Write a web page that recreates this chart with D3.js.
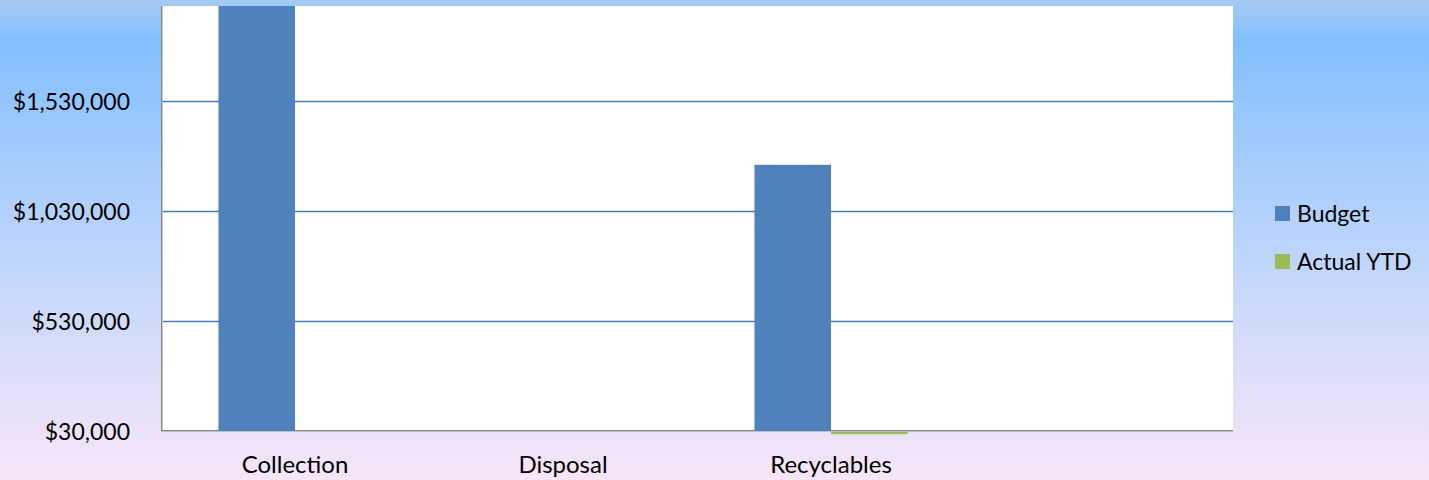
<!DOCTYPE html>
<html>
<head>
<meta charset="utf-8">
<script src="https://cdn.jsdelivr.net/npm/d3@7"></script>
<style>
  html, body { margin: 0; padding: 0; }
  svg { display: block; font-family: Lato, "Open Sans", sans-serif; }
</style>
</head>
<body>
<svg id="chart" width="1429" height="480"></svg>
<script>
// Solid waste budget vs. actual year-to-date
const categories = ["Collection", "Disposal", "Recyclables", ""];
const seriesNames = ["Budget", "Actual YTD"];
const budget = [2100000, null, 1240000, null];
const actualYTD = [null, null, 18000, null];
const tickValues = [30000, 530000, 1030000, 1530000];
const axisMin = 30000;
const axisMax = 1962000;

const colors = { "Budget": "#4f81bd", "Actual YTD": "#9bbb59" };

const W = 1429, H = 480;
const plot = { left: 161, right: 1233, top: 6, bottom: 431 };
const fontSize = 23;

const svg = d3.select("#chart");
const defs = svg.append("defs");

// Page background: sky blue fading into lavender pink
const bg = defs.append("linearGradient").attr("id", "bg")
  .attr("x1", 0).attr("y1", 0).attr("x2", 0).attr("y2", 1);
[[0, "#a6caf2"], [0.085, "#82bfff"], [0.35, "#a6cdfd"], [0.6, "#c6d8fb"],
 [0.8, "#e0dff9"], [1, "#f7e5f8"]].forEach(([o, c]) =>
  bg.append("stop").attr("offset", o).attr("stop-color", c));

defs.append("clipPath").attr("id", "plotClip").append("rect")
  .attr("x", plot.left).attr("y", plot.top)
  .attr("width", plot.right - plot.left).attr("height", plot.bottom - plot.top + 4);

svg.append("rect").attr("width", W).attr("height", H).attr("fill", "url(#bg)");

// Plot area
svg.append("rect")
  .attr("x", plot.left).attr("y", plot.top)
  .attr("width", plot.right - plot.left).attr("height", plot.bottom - plot.top)
  .attr("fill", "#ffffff");

const x0 = d3.scaleBand().domain(categories.map((c, i) => i))
  .range([plot.left, plot.right]).paddingInner(0).paddingOuter(0);
// Two bars per group, with a 150% gap between groups
const x1 = d3.scaleBand().domain(seriesNames)
  .range([0, x0.bandwidth()]).paddingInner(0).paddingOuter(0.75);
const y = d3.scaleLinear().domain([axisMin, axisMax]).range([plot.bottom, plot.top]);

// Gridlines
svg.append("g").selectAll("line").data(tickValues.slice(1)).join("line")
  .attr("x1", plot.left).attr("x2", plot.right)
  .attr("y1", d => Math.round(y(d)) + 0.5).attr("y2", d => Math.round(y(d)) + 0.5)
  .attr("stroke", "#4a7ebb").attr("stroke-width", 1.5);

// Axis lines with a soft shadow
svg.append("line").attr("x1", plot.left + 1.5).attr("x2", plot.left + 1.5)
  .attr("y1", plot.top).attr("y2", plot.bottom + 1).attr("stroke", "#c8c8c8").attr("stroke-width", 1);
svg.append("line").attr("x1", plot.left + 0.5).attr("x2", plot.left + 0.5)
  .attr("y1", plot.top).attr("y2", plot.bottom).attr("stroke", "#878787").attr("stroke-width", 1);
svg.append("line").attr("x1", plot.left).attr("x2", plot.right)
  .attr("y1", plot.bottom + 0.5).attr("y2", plot.bottom + 0.5).attr("stroke", "#c0c0c0").attr("stroke-width", 1);
svg.append("line").attr("x1", plot.left).attr("x2", plot.right)
  .attr("y1", plot.bottom - 0.5).attr("y2", plot.bottom - 0.5).attr("stroke", "#878787").attr("stroke-width", 1);

// Bars
const rows = [];
categories.forEach((c, i) => {
  [["Budget", budget[i]], ["Actual YTD", actualYTD[i]]].forEach(([s, v]) => {
    if (v != null) rows.push({ i, s, v });
  });
});
svg.append("g").attr("clip-path", "url(#plotClip)")
  .selectAll("rect").data(rows).join("rect")
  .attr("x", d => x0(d.i) + x1(d.s))
  .attr("width", x1.bandwidth())
  .attr("y", d => Math.min(y(d.v), y(axisMin)) + (d.v < axisMin ? 1 : 0))
  .attr("height", d => Math.abs(y(axisMin) - y(d.v)) - (d.v < axisMin ? 0.5 : 0))
  .attr("fill", d => colors[d.s]);

// Y axis labels
const fmt = d => "$" + d3.format(",")(d);
const yAxis = d3.axisLeft(y).tickValues(tickValues).tickFormat(fmt).tickSize(0).tickPadding(0);
const gy = svg.append("g").attr("transform", `translate(${plot.left - 31},0)`).call(yAxis);
gy.select(".domain").remove();
gy.selectAll("text").attr("font-size", fontSize).attr("fill", "#000")
  .attr("font-family", "Lato, sans-serif").attr("dy", "0.35em");

// X axis labels
const xAxis = d3.axisBottom(x0).tickFormat(i => categories[i]).tickSize(0).tickPadding(0);
const gx = svg.append("g").attr("transform", `translate(0,${plot.bottom + 25})`).call(xAxis);
gx.select(".domain").remove();
gx.selectAll("text").attr("font-size", 24).attr("fill", "#000")
  .attr("font-family", "Lato, sans-serif").attr("dy", "0.71em");

// Legend
const legend = svg.append("g").attr("transform", "translate(1275,206)");
seriesNames.forEach((s, k) => {
  const g = legend.append("g").attr("transform", `translate(0,${k * 48})`);
  g.append("rect").attr("width", 15).attr("height", 15).attr("fill", colors[s]);
  g.append("text").attr("x", 22).attr("y", 7.5).attr("dy", "0.35em")
    .attr("font-size", fontSize).attr("fill", "#000").text(s);
});
</script>
</body>
</html>
